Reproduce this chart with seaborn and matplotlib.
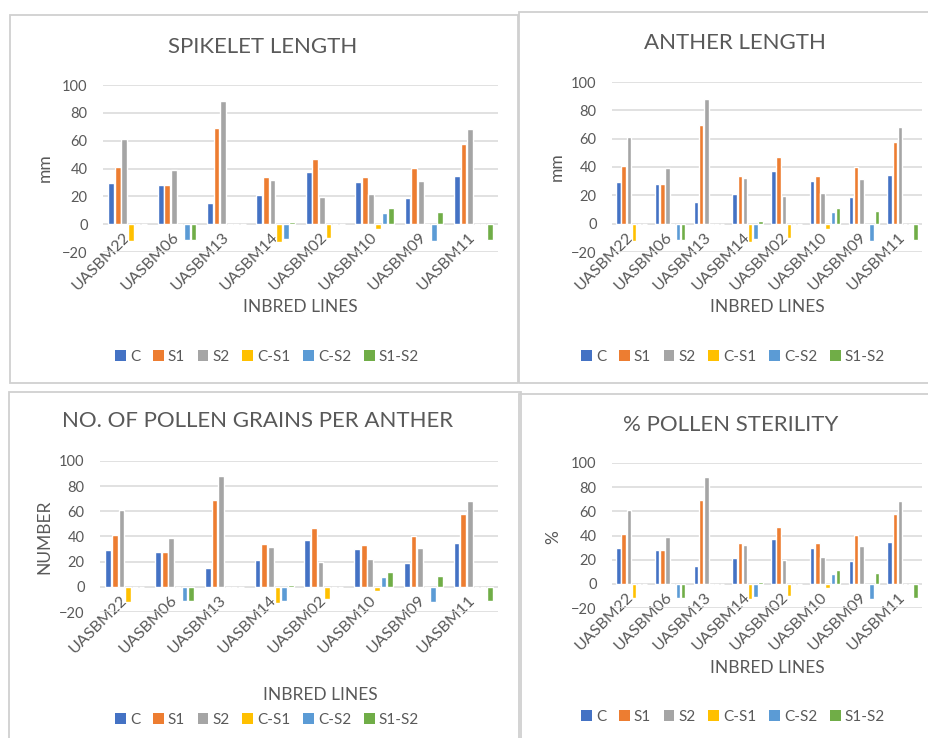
import numpy as np
import pandas as pd
import matplotlib
matplotlib.use("Agg")
import matplotlib.pyplot as plt
import seaborn as sns
from matplotlib.patches import Patch, Rectangle

# ----------------------------------------------------------
# DATA
# ----------------------------------------------------------

lines = ["UASBM22", "UASBM06", "UASBM13", "UASBM14",
         "UASBM02", "UASBM10", "UASBM09", "UASBM11"]

c_vals = [29.3, 27.8, 15, 21, 37.3, 30, 19, 34.5]
s1_vals = [41, 28, 69.3, 33.8, 47, 33.6, 40.3, 57.5]
s2_vals = [61, 39, 88.3, 31.9, 19.8, 22, 31.2, 68.3]
c_s1_vals = [-12, 0, 0, -12.7, -10, -3.6, 0, 0]
c_s2_vals = [0, -11.5, 0, -11, 0, 8.1, -12.4, 0]
s1_s2_vals = [0, -11.5, 0, 1.7, 0, 11.4, 8.8, -11.5]

series = ["C", "S1", "S2", "C-S1", "C-S2", "S1-S2"]
colors = ["#4472C4", "#ED7D31", "#A5A5A5", "#FFC000", "#5B9BD5", "#70AD47"]

titles = ["SPIKELET LENGTH", "ANTHER LENGTH",
          "NO. OF POLLEN GRAINS PER ANTHER", "% POLLEN STERILITY"]
ylabels = ["mm", "mm", "NUMBER", "%"]

rows = []
for name, vals in zip(series, [c_vals, s1_vals, s2_vals,
                               c_s1_vals, c_s2_vals, s1_s2_vals]):
    for ln, v in zip(lines, vals):
        rows.append({"line": ln, "series": name, "value": v})
df = pd.DataFrame(rows)

# ----------------------------------------------------------
# LAYOUT (pixels, top-left origin)
# ----------------------------------------------------------

W, H = 929, 738
boxes = [(10, 15, 518, 383), (519, 12, 935, 383),
         (9, 392, 521, 745), (519, 394, 935, 745)]
axes_px = [(103, 85, 498, 252), (612, 82, 922, 252),
           (100, 461, 498, 612), (612, 463, 922, 608)]
title_pos = [(263, 47), (735, 43), (258, 421), (731, 425)]
ylab_pos = [(45, 168), (557, 167), (44, 537), (553, 537)]
xlab_pos = [(300, 307), (767, 307), (320, 695), (767, 668)]
leg_pos = [(267, 357), (733, 357), (267, 720), (733, 717)]

sns.set_style("white")
plt.rcParams['font.family'] = ['Lato', 'DejaVu Sans']
grey = "#595959"

fig = plt.figure(figsize=(W / 100, H / 100), dpi=100)

handles = [Patch(facecolor=c, edgecolor="none") for c in colors]

for i in range(4):
    bx0, by0, bx1, by1 = boxes[i]
    fig.add_artist(Rectangle((bx0 / W, 1 - by1 / H), (bx1 - bx0) / W,
                             (by1 - by0) / H, transform=fig.transFigure,
                             fill=False, edgecolor="#d0d0d0", lw=1.3))

    x0, y0, x1, y1 = axes_px[i]
    ax = fig.add_axes([x0 / W, 1 - y1 / H, (x1 - x0) / W, (y1 - y0) / H])
    sns.barplot(data=df, x="line", y="value", hue="series",
                order=lines, hue_order=series, palette=colors,
                saturation=1, width=0.8, gap=0.12, errorbar=None,
                legend=False, ax=ax)

    ax.set_ylim(-20, 100)
    ax.set_yticks(range(-20, 101, 20))
    ax.grid(axis="y", color="#d9d9d9", lw=1.1)
    ax.set_axisbelow(True)
    for sp in ax.spines.values():
        sp.set_visible(False)
    ax.spines["bottom"].set_position(("data", 0))
    ax.set_xlabel("")
    ax.set_ylabel("")
    ax.tick_params(axis="y", length=0, pad=11, labelsize=10.5, labelcolor=grey)
    ax.tick_params(axis="x", length=0, pad=8, labelsize=11.5, labelcolor=grey)
    plt.setp(ax.get_xticklabels(), rotation=45, ha="right", va="center",
             rotation_mode="anchor")

    tx, ty = title_pos[i]
    fig.text(tx / W, 1 - ty / H, titles[i], ha="center", va="center",
             fontsize=16, color=grey)
    lx, ly = ylab_pos[i]
    fig.text(lx / W, 1 - ly / H, ylabels[i], ha="center", va="center",
             rotation=90, fontsize=12.5, color=grey)
    xx, xy = xlab_pos[i]
    fig.text(xx / W, 1 - xy / H, "INBRED LINES", ha="center", va="center",
             fontsize=12.5, color=grey)
    gx, gy = leg_pos[i]
    fig.legend(handles, series, loc="center",
               bbox_to_anchor=(gx / W, 1 - gy / H), ncol=6, frameon=False,
               fontsize=11, handlelength=0.7, handleheight=0.7,
               handletextpad=0.25, columnspacing=0.85, labelcolor=grey,
               borderaxespad=0)

fig.savefig("out.png", dpi=100)
